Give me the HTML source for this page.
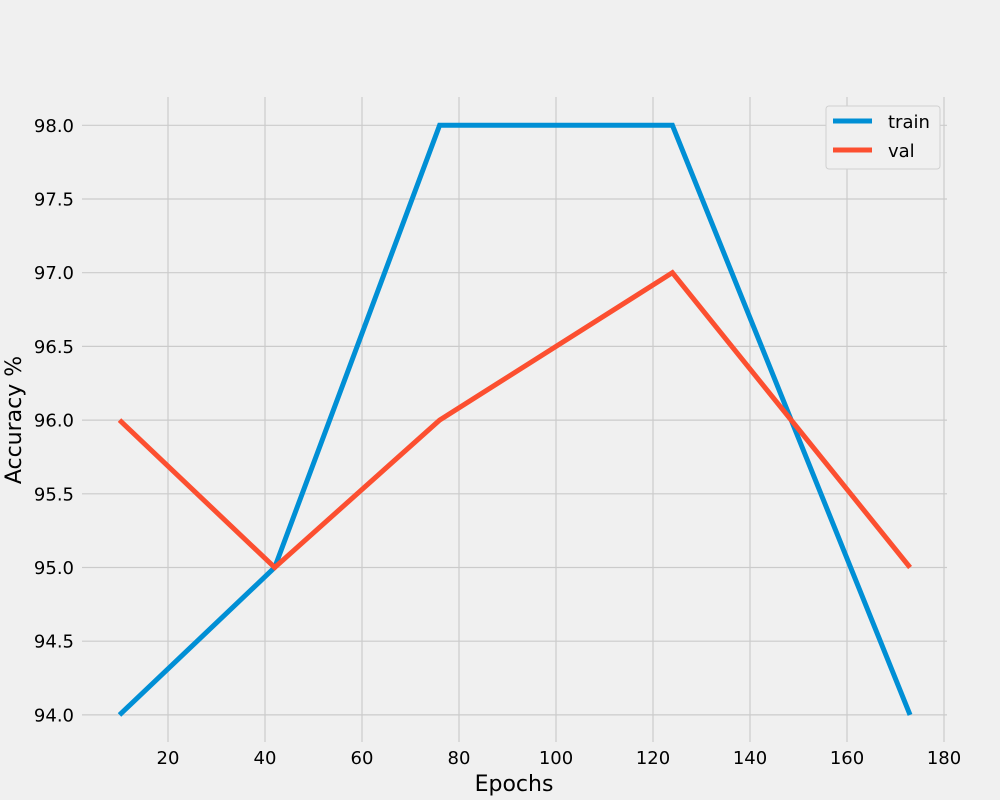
<!DOCTYPE html>
<html><head><meta charset="utf-8"><style>
html,body{margin:0;padding:0;background:#f0f0f0;}
svg{display:block;font-family:"DejaVu Sans","Liberation Sans",sans-serif;}
</style></head><body>
<svg id="chart" width="1000" height="800" viewBox="0 0 1000 800">
<rect width="1000" height="800" fill="#f0f0f0"/>
<g id="grid"></g>
<g id="ticks"></g>
<g id="lines"></g>
<text x="514" y="791" font-size="22" text-anchor="middle" fill="#000">Epochs</text>
<text transform="translate(21,420) rotate(-90)" font-size="22" text-anchor="middle" fill="#000">Accuracy %</text>
<g>
<rect x="826" y="106" width="114" height="63" rx="3" fill="#f0f0f0" stroke="#d0d0d0" stroke-width="1"/>
<line x1="833" y1="121" x2="872" y2="121" stroke="#008fd5" stroke-width="5"/>
<text x="888" y="128" font-size="18" fill="#000">train</text>
<line x1="833" y1="150" x2="872" y2="150" stroke="#fc4f30" stroke-width="5"/>
<text x="888" y="157" font-size="18" fill="#000">val</text>
</g>
</svg>
<script>
const epochs = [10, 42, 76, 124, 173];
const trainAcc = [94, 95, 98, 98, 94];
const valAcc = [96, 95, 96, 97, 95];
const xTicks = [20, 40, 60, 80, 100, 120, 140, 160, 180];
const yTicks = [94.0, 94.5, 95.0, 95.5, 96.0, 96.5, 97.0, 97.5, 98.0];

const NS = "http://www.w3.org/2000/svg";
function xs(v){ return 71 + (v) * 4.85; }
function ys(v){ return 125.3 + (98 - v) * 147.4; }
function mk(tag, attrs, parent){
  const el = document.createElementNS(NS, tag);
  for (const k in attrs) el.setAttribute(k, attrs[k]);
  parent.appendChild(el);
  return el;
}
const grid = document.getElementById('grid');
const ticks = document.getElementById('ticks');
const lines = document.getElementById('lines');
xTicks.forEach(t => {
  const l = mk('line', {x1: xs(t), x2: xs(t), y1: 97, y2: 742, stroke: '#cbcbcb', 'stroke-width': 1.2}, grid);
  
  
  const tx = mk('text', {x: xs(t), y: 764, 'font-size': 18, 'text-anchor': 'middle', fill: '#000'}, ticks);
  tx.textContent = String(t);
  
  
});
yTicks.forEach(t => {
  const l = mk('line', {x1: 82, x2: 947, y1: ys(t), y2: ys(t), stroke: '#cbcbcb', 'stroke-width': 1.2}, grid);
  
  
  const tx = mk('text', {x: 74, y: ys(t) + 6.5, 'font-size': 18, 'text-anchor': 'end', fill: '#000'}, ticks);
  tx.textContent = t.toFixed(1);
  
  
});
function series(vals, color, name){
  const pts = epochs.map((e, i) => xs(e) + ',' + ys(vals[i])).join(' ');
  const p = mk('polyline', {points: pts, fill: 'none', stroke: color, 'stroke-width': 5, 'stroke-linejoin': 'miter'}, lines);
  
  
}
series(trainAcc, '#008fd5', 'train-line');
series(valAcc, '#fc4f30', 'val-line');
</script>
</body></html>
